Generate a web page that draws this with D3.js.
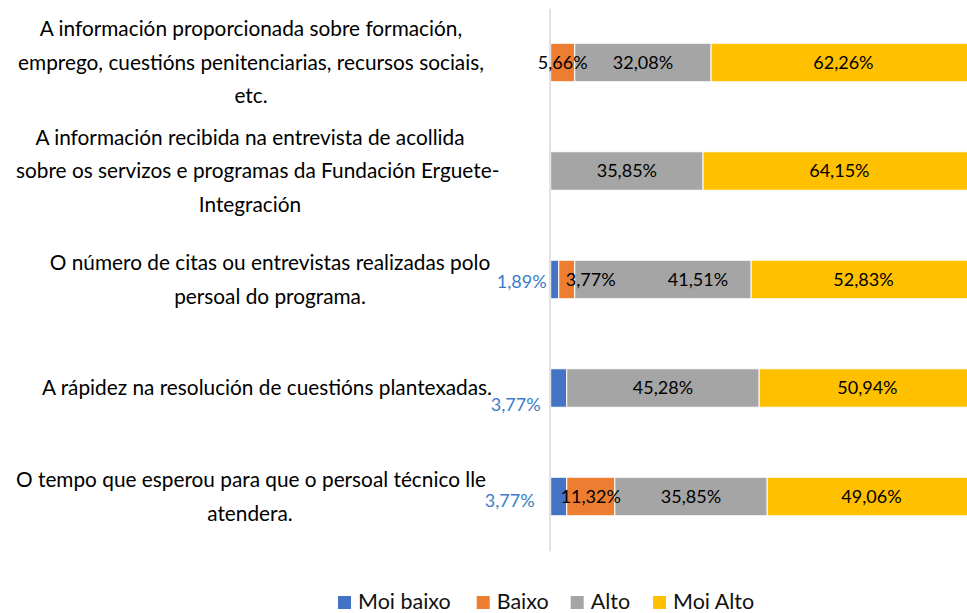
<!DOCTYPE html>
<html>
<head>
<meta charset="utf-8">
<script src="https://cdn.jsdelivr.net/npm/d3@7"></script>
<style>
  body { margin: 0; background: #fff; }
  svg { display: block; font-family: Lato, "Open Sans", sans-serif; }
</style>
</head>
<body>
<div id="chart"></div>
<script>
// Category labels, already split in lines as in the original
const categoryLines = [
    ['A información proporcionada sobre formación,', 'emprego, cuestións penitenciarias, recursos sociais,', 'etc.'],
    ['A información recibida na entrevista de acollida', 'sobre os servizos e programas da Fundación Erguete-', 'Integración'],
    ['O número de citas ou entrevistas realizadas polo', 'persoal do programa.'],
    ['A rápidez na resolución de cuestións plantexadas.'],
    ['O tempo que esperou para que o persoal técnico lle', 'atendera.']
];
const seriesNames = ['Moi baixo', 'Baixo', 'Alto', 'Moi Alto'];
const moiBaixo = [0, 0, 1.89, 3.77, 3.77];
const baixo = [5.66, 0, 3.77, 0, 11.32];
const alto = [32.08, 35.85, 41.51, 45.28, 35.85];
const moiAlto = [62.26, 64.15, 52.83, 50.94, 49.06];

const colors = ['#4472C4', '#ED7D31', '#A5A5A5', '#FFC000'];

//////////////////////////////////////////////////////////////////////
// Layout
//////////////////////////////////////////////////////////////////////
const W = 967, H = 613;
const plotLeft = 550.7, plotRight = 975.7;   // 100% runs past the window edge
const plotTop = 8.25, plotBottom = 550.75;
const labelCenters = [251, 250, 270, 267, 250];
const lineHeight = 33.5;

// Hand nudges for data labels that Excel moved (row index | series index)
const labelNudge = {
    '2|1': {dx: 24, dy: 0},
    '2|2': {dx: 35, dy: 0},
    '2|0': {outside: true, dx: -4, dy: 2.5},
    '3|0': {outside: true, dx: -10, dy: 17},
    '4|0': {outside: true, dx: -16, dy: 4}
};

const svg = d3.select('#chart')
    .append('svg')
    .attr('width', W)
    .attr('height', H);

const rows = categoryLines.map((lines, i) => ({
    idx: i,
    'Moi baixo': moiBaixo[i],
    'Baixo': baixo[i],
    'Alto': alto[i],
    'Moi Alto': moiAlto[i]
}));

const y = d3.scaleBand()
    .domain(rows.map(d => d.idx))
    .range([plotTop, plotBottom])
    .paddingInner(0.645)
    .paddingOuter(0.3225);

const x = d3.scaleLinear()
    .domain([0, 100])
    .range([plotLeft, plotRight]);

const stacked = d3.stack().keys(seriesNames)(rows);

// Bars
const layers = svg.selectAll('.layer')
    .data(stacked)
    .enter()
    .append('g')
    .attr('class', 'layer')
    .attr('fill', (d, i) => colors[i]);

layers.selectAll('rect')
    .data(d => d.filter(p => p[1] - p[0] > 0))
    .enter()
    .append('rect')
    .attr('x', p => x(p[0]))
    .attr('y', p => y(p.data.idx))
    .attr('width', p => x(p[1]) - x(p[0]))
    .attr('height', y.bandwidth())
    .attr('stroke', '#fff')
    .attr('stroke-width', 1);

// Left axis line only
const axis = svg.append('g')
    .attr('transform', `translate(549.5,0)`)
    .call(d3.axisLeft(y).tickSize(0).tickFormat(''));
axis.select('.domain').attr('stroke', '#D9D9D9').attr('stroke-width', 1.5);

// Category labels
const catLabels = svg.append('g');
categoryLines.forEach((lines, i) => {
    const cy = y(i) + y.bandwidth() / 2;
    lines.forEach((line, j) => {
        const t = catLabels.append('text')
            .attr('x', labelCenters[i])
            .attr('y', cy + (j - (lines.length - 1) / 2) * lineHeight)
            .attr('dy', '0.35em')
            .attr('text-anchor', 'middle')
            .attr('font-size', 20.8)
            .attr('fill', '#000')
            .text(line);
        // keep long lines inside the left margin like Excel does
        const bb = t.node().getBBox();
        if (bb.x < 16) t.attr('x', labelCenters[i] + (16 - bb.x));
    });
});

// Data labels
const fmt = v => d3.format('.2f')(v).replace('.', ',') + '%';
stacked.forEach((layer, s) => {
    layer.forEach((p, i) => {
        const v = p[1] - p[0];
        if (v <= 0) return;
        const nudge = labelNudge[`${i}|${s}`] || {dx: 0, dy: 0};
        const cy = y(i) + y.bandwidth() / 2 + nudge.dy;
        const t = svg.append('text')
            .attr('dy', '0.35em')
            .attr('font-size', 18)
            .text(fmt(v));
        if (nudge.outside) {
            t.attr('x', x(0) + nudge.dx)
                .attr('y', cy)
                .attr('text-anchor', 'end')
                .attr('fill', '#3A7DC9');
        } else {
            t.attr('x', (x(p[0]) + x(p[1])) / 2 + nudge.dx)
                .attr('y', cy)
                .attr('text-anchor', 'middle')
                .attr('fill', '#000');
        }
    });
});

// Legend
const legendX = [338, 476.7, 570.7, 653];
const legend = svg.append('g');
seriesNames.forEach((name, i) => {
    legend.append('rect')
        .attr('x', legendX[i])
        .attr('y', 596)
        .attr('width', 13)
        .attr('height', 13)
        .attr('fill', colors[i]);
    legend.append('text')
        .attr('x', legendX[i] + 20)
        .attr('y', 609)
        .attr('font-size', 21.5)
        .attr('fill', '#111')
        .text(name);
});
</script>
</body>
</html>
